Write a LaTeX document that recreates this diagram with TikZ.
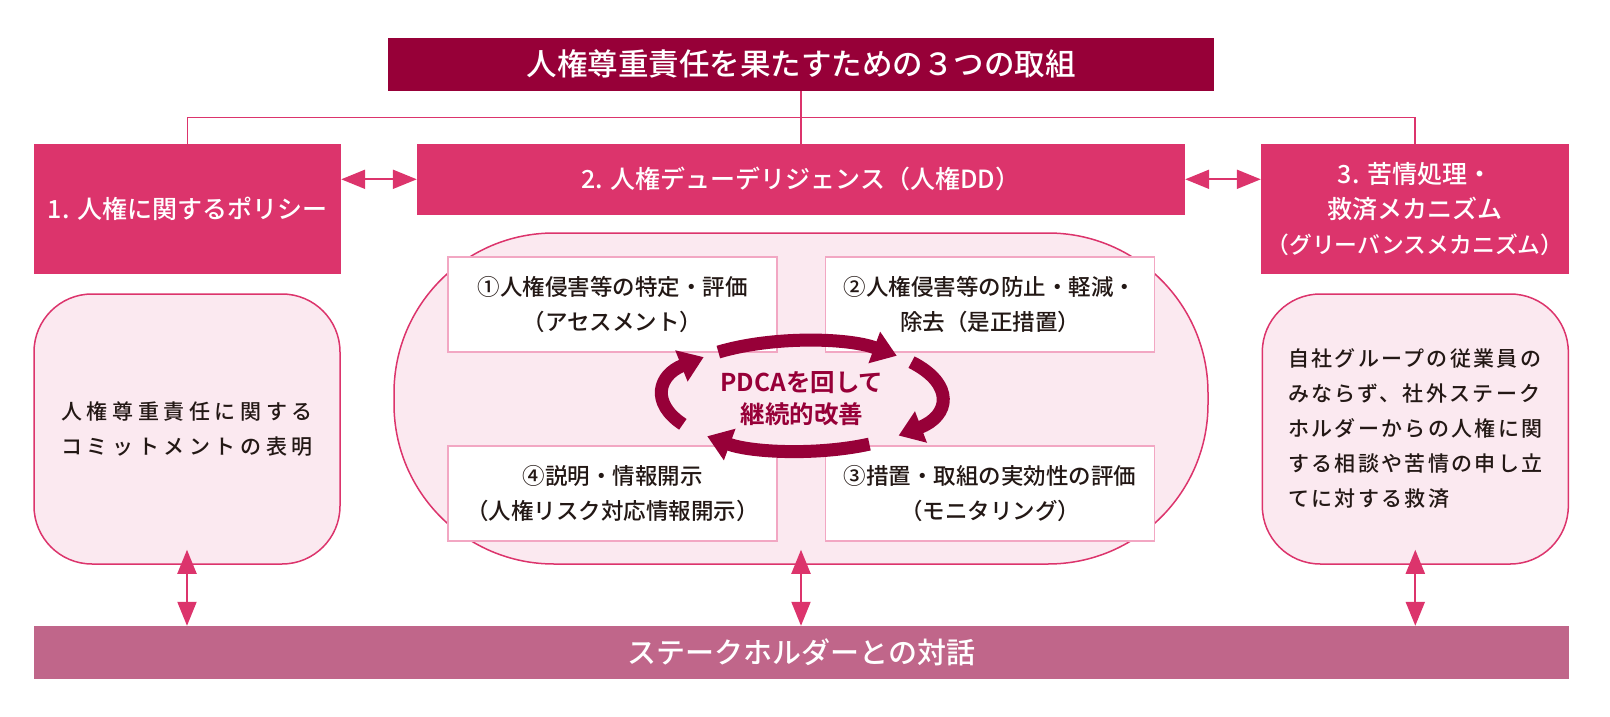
\documentclass[tikz,border=0pt]{standalone}
\usepackage{fontspec}
\setmainfont{Noto Sans CJK JP}[UprightFont=* Medium, BoldFont=* Bold]
\usetikzlibrary{arrows.meta}
\definecolor{deepred}{RGB}{151,0,56}
\definecolor{rosebox}{RGB}{220,52,108}
\definecolor{paleback}{RGB}{251,233,240}
\definecolor{itemline}{RGB}{242,167,195}
\definecolor{barcol}{RGB}{192,102,138}
\definecolor{inkcol}{RGB}{35,24,21}

\begin{document}
\begin{tikzpicture}[x=1pt,y=-1pt,
  headbox/.style={fill=rosebox, text=white, inner sep=0pt, align=center, font=\fontsize{25}{35}\selectfont},
  softbox/.style={draw=rosebox, line width=1.5pt, fill=paleback, rounded corners=58pt, inner sep=0pt, align=left, text=inkcol, minimum width=306pt, minimum height=270pt},
  stepitem/.style={draw=itemline, line width=1.5pt, fill=white, inner sep=0pt, align=center, text=inkcol, font=\fontsize{22.5}{35}\selectfont, minimum width=329pt, minimum height=95pt},
  tie/.style={draw=rosebox, line width=1.5pt},
  twoway/.style={rosebox, line width=2pt, {Triangle[length=24pt,width=19pt]}-{Triangle[length=24pt,width=19pt]}},
  loopbow/.style={deepred, line width=13pt, -{Triangle[length=24pt,width=32pt]}}]
\useasboundingbox (0,0) rectangle (1610,717);

% top row
\node[fill=deepred, text=white, minimum width=826pt, minimum height=53pt, inner sep=0pt, font=\fontsize{30.5}{36}\selectfont] (goal) at (801,64.2) {人権尊重責任を果たすための３つの取組};
\node[headbox, minimum width=307pt, minimum height=130pt] (policy) at (187.5,209) {1. 人権に関するポリシー};
\node[headbox, minimum width=768pt, minimum height=70.7pt] (hrdd) at (801,179.3) {2. 人権デューデリジェンス（人権DD）};
\node[headbox, minimum width=308pt, minimum height=130pt] (remedy) at (1415,209) {3. 苦情処理・\\救済メカニズム\\{\fontsize{22.8}{35}\selectfont（グリーバンスメカニズム）}};

\coordinate (rail) at (801,117.7);
\draw[tie] (policy.north) |- (rail) -| (remedy.north);
\draw[tie] (goal.south) -- (hrdd.north);
\draw[twoway] (policy.east |- hrdd.west) -- (hrdd.west);
\draw[twoway] (hrdd.east) -- (remedy.west |- hrdd.east);

% middle row
\node[softbox, font=\fontsize{21}{35}\selectfont\addfontfeatures{LetterSpace=22}] (pledge) at (187,429) {人権尊重責任に関する\\コミットメントの表明};
\node[softbox, font=\fontsize{21}{35}\selectfont\addfontfeatures{LetterSpace=11}] (relief) at (1415.3,429) {自社グループの従業員の\\みならず、社外ステーク\\ホルダーからの人権に関\\する相談や苦情の申し立\\てに対する救済};
\node[draw=rosebox, line width=1.5pt, fill=paleback, rounded corners=160pt, minimum width=814pt, minimum height=331pt] (ddarea) at (801,398.5) {};

\node[stepitem] (assess) at (612.5,304.5) {①人権侵害等の特定・評価\\（アセスメント）};
\node[stepitem] (prevent) at (990,304.5) {②人権侵害等の防止・軽減・\\除去（是正措置）};
\node[stepitem] (monitor) at (990,493.5) {③措置・取組の実効性の評価\\（モニタリング）};
\node[stepitem] (disclose) at (612.5,493.5) {④説明・情報開示\\（人権リスク対応情報開示）};

% PDCA loop
\coordinate (hub) at (802,396);
\draw[loopbow] (hub) ++(-127:139 and 55) arc[start angle=-127, end angle=-47, x radius=139, y radius=55];
\draw[loopbow] (hub) ++(-38:139 and 55) arc[start angle=-38, end angle=46, x radius=139, y radius=55];
\draw[loopbow] (hub) ++(61:139 and 55) arc[start angle=61, end angle=133, x radius=139, y radius=55];
\draw[loopbow] (hub) ++(149:139 and 55) arc[start angle=149, end angle=225, x radius=139, y radius=55];
\node[text=deepred, align=center, font=\bfseries\fontsize{24.5}{32}\selectfont] (pdca) at (802,399) {PDCAを回して\\継続的改善};

% bottom row
\node[fill=barcol, text=white, minimum width=1535pt, minimum height=53pt, inner sep=0pt, font=\fontsize{29}{35}\selectfont] (dialog) at (801.5,652.5) {ステークホルダーとの対話};

\coordinate (upL) at ([yshift=15pt]pledge.south);
\coordinate (upM) at ([yshift=15pt]ddarea.south);
\coordinate (upR) at ([yshift=15pt]relief.south);
\draw[twoway] (upL) -- (upL |- dialog.north);
\draw[twoway] (upM) -- (upM |- dialog.north);
\draw[twoway] (upR) -- (upR |- dialog.north);
\end{tikzpicture}
\end{document}
